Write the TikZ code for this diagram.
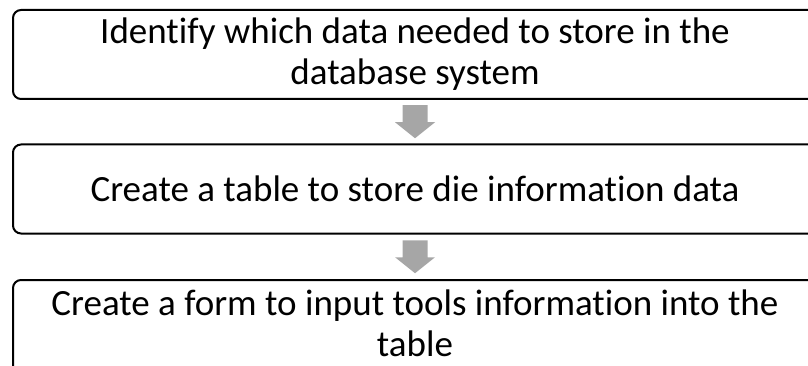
\documentclass[tikz,border=0pt]{standalone}
\usepackage{fontspec}
\setmainfont{Carlito}[Ligatures=NoCommon]
\usetikzlibrary{calc}
\definecolor{arrowgray}{RGB}{166,166,166}
\tikzset{
  stepbox/.style={draw=black, line width=2pt, rounded corners=8pt, fill=white,
    minimum width=804pt, minimum height=89pt, inner sep=0pt, align=center,
    font=\fontsize{37}{41}\selectfont},
  steptext/.style={inner sep=0pt, align=center, font=\fontsize{37}{41}\selectfont},
  blockarrow/.style={fill=arrowgray, draw=none}
}
\newcommand{\downblock}[2]{%
  \coordinate (m) at ($(#1.south)!0.5!(#2.north)$);
  \fill[blockarrow] ($(m)+(-12.5pt,16.5pt)$) -- ($(m)+(12.5pt,16.5pt)$) -- ($(m)+(12.5pt,-0.5pt)$)
    -- ($(m)+(20pt,-0.5pt)$) -- ($(m)+(0pt,-16.5pt)$) -- ($(m)+(-20pt,-0.5pt)$)
    -- ($(m)+(-12.5pt,-0.5pt)$) -- cycle;}
\begin{document}
\begin{tikzpicture}
\useasboundingbox (0pt,0pt) rectangle (808pt,-366pt);
\clip (0pt,0pt) rectangle (808pt,-366pt);
\node[stepbox] (b1) at (415pt,-54.5pt) {Identify which data needed to store in the\\database system};
\node[stepbox] (b2) at (415pt,-189pt) {Create a table to store die information data};
\node[stepbox, minimum height=130pt, anchor=north] (b3) at (415pt,-279pt) {};
\node[steptext] (t3) at (415pt,-323.5pt) {Create a form to input tools information into the\\table};
\downblock{b1}{b2}
\coordinate (b3top) at (415pt,-279pt);
\coordinate (m2) at ($(b2.south)!0.5!(b3top)$);
\fill[blockarrow] ($(m2)+(-12.5pt,16.5pt)$) -- ($(m2)+(12.5pt,16.5pt)$) -- ($(m2)+(12.5pt,-0.5pt)$)
    -- ($(m2)+(20pt,-0.5pt)$) -- ($(m2)+(0pt,-16.5pt)$) -- ($(m2)+(-20pt,-0.5pt)$)
    -- ($(m2)+(-12.5pt,-0.5pt)$) -- cycle;
\end{tikzpicture}
\end{document}
